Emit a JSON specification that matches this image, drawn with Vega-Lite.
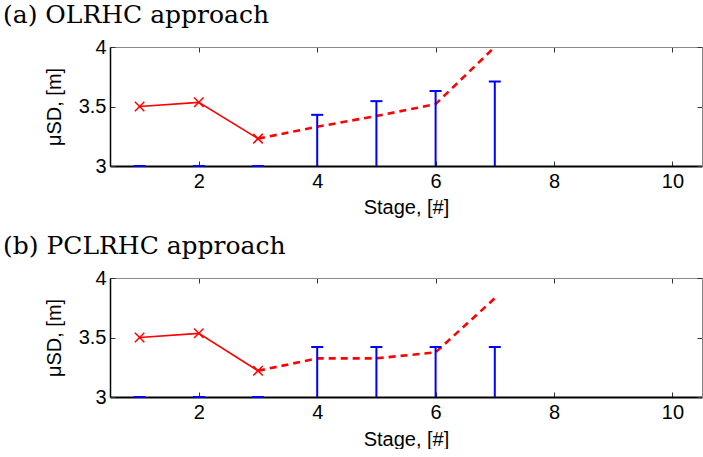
{
  "$schema": "https://vega.github.io/schema/vega-lite/v6.json",
  "background": "white",
  "padding": {"left": 3, "top": 3, "right": 0, "bottom": 0},
  "spacing": 17,
  "datasets": {
    "est": [
      {"panel": "a", "stage": 1, "mu": 3.50, "seg": "solid"},
      {"panel": "a", "stage": 2, "mu": 3.535, "seg": "solid"},
      {"panel": "a", "stage": 3, "mu": 3.23, "seg": "solid"},
      {"panel": "a", "stage": 3, "mu": 3.23, "seg": "dashed"},
      {"panel": "a", "stage": 4, "mu": 3.33, "seg": "dashed"},
      {"panel": "a", "stage": 5, "mu": 3.42, "seg": "dashed"},
      {"panel": "a", "stage": 6, "mu": 3.52, "seg": "dashed"},
      {"panel": "a", "stage": 7, "mu": 4.0, "seg": "dashed"},
      {"panel": "b", "stage": 1, "mu": 3.50, "seg": "solid"},
      {"panel": "b", "stage": 2, "mu": 3.535, "seg": "solid"},
      {"panel": "b", "stage": 3, "mu": 3.22, "seg": "solid"},
      {"panel": "b", "stage": 3, "mu": 3.22, "seg": "dashed"},
      {"panel": "b", "stage": 4, "mu": 3.325, "seg": "dashed"},
      {"panel": "b", "stage": 5, "mu": 3.325, "seg": "dashed"},
      {"panel": "b", "stage": 6, "mu": 3.375, "seg": "dashed"},
      {"panel": "b", "stage": 7, "mu": 3.83, "seg": "dashed"}
    ],
    "bars": [
      {"panel": "a", "stage": 1, "lo": 3, "hi": 3.0},
      {"panel": "a", "stage": 2, "lo": 3, "hi": 3.0},
      {"panel": "a", "stage": 3, "lo": 3, "hi": 3.0},
      {"panel": "a", "stage": 4, "lo": 3, "hi": 3.43},
      {"panel": "a", "stage": 5, "lo": 3, "hi": 3.545},
      {"panel": "a", "stage": 6, "lo": 3, "hi": 3.63},
      {"panel": "a", "stage": 7, "lo": 3, "hi": 3.71},
      {"panel": "b", "stage": 1, "lo": 3, "hi": 3.0},
      {"panel": "b", "stage": 2, "lo": 3, "hi": 3.0},
      {"panel": "b", "stage": 3, "lo": 3, "hi": 3.0},
      {"panel": "b", "stage": 4, "lo": 3, "hi": 3.42},
      {"panel": "b", "stage": 5, "lo": 3, "hi": 3.42},
      {"panel": "b", "stage": 6, "lo": 3, "hi": 3.42},
      {"panel": "b", "stage": 7, "lo": 3, "hi": 3.42}
    ]
  },
  "config": {
    "view": {"stroke": null},
    "axis": {
      "labelFont": "Liberation Sans", "titleFont": "Liberation Sans",
      "labelFontSize": 20, "titleFontSize": 20, "titleFontWeight": "normal",
      "labelColor": "black", "titleColor": "black", "grid": false,
      "tickColor": "#333", "tickSize": -5, "tickWidth": 1
    },
    "title": {"font": "DejaVu Serif", "fontSize": 25, "fontWeight": "normal", "anchor": "start", "frame": "bounds", "color": "black", "offset": 9}
  },
  "vconcat": [
    {
      "title": "(a) OLRHC approach",
      "width": 592, "height": 119,
      "resolve": {"axis": {"x": "independent", "y": "independent"}},
      "layer": [
        {
          "data": {"name": "est"},
          "transform": [{"filter": "datum.panel == 'a' && datum.seg == 'solid'"}],
          "mark": {"type": "line", "color": "red", "strokeWidth": 1.6},
          "encoding": {
            "x": {"field": "stage", "type": "quantitative", "scale": {"domain": [0.5, 10.5], "nice": false}, "axis": {"orient": "bottom", "title": "Stage, [#]", "values": [2, 4, 6, 8, 10], "domainColor": "black", "domainWidth": 2, "labelPadding": 10, "titlePadding": 6}},
            "y": {"field": "mu", "type": "quantitative", "scale": {"domain": [3, 4], "nice": false, "zero": false}, "axis": {"orient": "left", "title": "μSD, [m]", "values": [3, 3.5, 4], "format": "~g", "domainColor": "black", "domainWidth": 1.5, "labelPadding": 9, "titlePadding": 14}}
          }
        },
        {
          "data": {"name": "est"},
          "transform": [{"filter": "datum.panel == 'a' && datum.seg == 'dashed'"}],
          "mark": {"type": "line", "color": "red", "strokeWidth": 2.6, "strokeDash": [7, 5]},
          "encoding": {
            "x": {"field": "stage", "type": "quantitative", "axis": {"orient": "top", "title": null, "labels": false, "values": [2, 4, 6, 8, 10], "domainColor": "#888", "domainWidth": 1}},
            "y": {"field": "mu", "type": "quantitative", "axis": {"orient": "right", "title": null, "labels": false, "values": [3, 3.5, 4], "domainColor": "#888", "domainWidth": 1}}
          }
        },
        {
          "data": {"name": "est"},
          "transform": [{"filter": "datum.panel == 'a' && datum.seg == 'solid'"}],
          "mark": {"type": "point", "shape": "M-1,-1L1,1M-1,1L1,-1", "filled": false, "color": "red", "strokeWidth": 1.5, "size": 90, "opacity": 1},
          "encoding": {
            "x": {"field": "stage", "type": "quantitative", "axis": null},
            "y": {"field": "mu", "type": "quantitative", "axis": {"orient": "left", "title": "I", "titleOpacity": 0, "titlePadding": 87, "labels": false, "ticks": false, "domain": false}}
          }
        },
        {
          "data": {"name": "bars"},
          "transform": [{"filter": "datum.panel == 'a'"}],
          "mark": {"type": "rule", "color": "blue", "strokeWidth": 2},
          "encoding": {
            "x": {"field": "stage", "type": "quantitative", "axis": null},
            "y": {"field": "lo", "type": "quantitative", "axis": null},
            "y2": {"field": "hi"}
          }
        },
        {
          "data": {"name": "bars"},
          "transform": [{"filter": "datum.panel == 'a'"}],
          "mark": {"type": "tick", "orient": "horizontal", "color": "blue", "thickness": 2, "size": 12, "opacity": 1},
          "encoding": {
            "x": {"field": "stage", "type": "quantitative", "axis": null},
            "y": {"field": "hi", "type": "quantitative", "axis": null}
          }
        }
      ]
    },
    {
      "title": "(b) PCLRHC approach",
      "width": 592, "height": 119,
      "resolve": {"axis": {"x": "independent", "y": "independent"}},
      "layer": [
        {
          "data": {"name": "est"},
          "transform": [{"filter": "datum.panel == 'b' && datum.seg == 'solid'"}],
          "mark": {"type": "line", "color": "red", "strokeWidth": 1.6},
          "encoding": {
            "x": {"field": "stage", "type": "quantitative", "scale": {"domain": [0.5, 10.5], "nice": false}, "axis": {"orient": "bottom", "title": "Stage, [#]", "values": [2, 4, 6, 8, 10], "domainColor": "black", "domainWidth": 2, "labelPadding": 10, "titlePadding": 7}},
            "y": {"field": "mu", "type": "quantitative", "scale": {"domain": [3, 4], "nice": false, "zero": false}, "axis": {"orient": "left", "title": "μSD, [m]", "values": [3, 3.5, 4], "format": "~g", "domainColor": "black", "domainWidth": 1.5, "labelPadding": 9, "titlePadding": 14}}
          }
        },
        {
          "data": {"name": "est"},
          "transform": [{"filter": "datum.panel == 'b' && datum.seg == 'dashed'"}],
          "mark": {"type": "line", "color": "red", "strokeWidth": 2.6, "strokeDash": [7, 5]},
          "encoding": {
            "x": {"field": "stage", "type": "quantitative", "axis": {"orient": "top", "title": null, "labels": false, "values": [2, 4, 6, 8, 10], "domainColor": "#888", "domainWidth": 1}},
            "y": {"field": "mu", "type": "quantitative", "axis": {"orient": "right", "title": null, "labels": false, "values": [3, 3.5, 4], "domainColor": "#888", "domainWidth": 1}}
          }
        },
        {
          "data": {"name": "est"},
          "transform": [{"filter": "datum.panel == 'b' && datum.seg == 'solid'"}],
          "mark": {"type": "point", "shape": "M-1,-1L1,1M-1,1L1,-1", "filled": false, "color": "red", "strokeWidth": 1.5, "size": 90, "opacity": 1},
          "encoding": {
            "x": {"field": "stage", "type": "quantitative", "axis": null},
            "y": {"field": "mu", "type": "quantitative", "axis": {"orient": "left", "title": "I", "titleOpacity": 0, "titlePadding": 87, "labels": false, "ticks": false, "domain": false}}
          }
        },
        {
          "data": {"name": "bars"},
          "transform": [{"filter": "datum.panel == 'b'"}],
          "mark": {"type": "rule", "color": "blue", "strokeWidth": 2},
          "encoding": {
            "x": {"field": "stage", "type": "quantitative", "axis": null},
            "y": {"field": "lo", "type": "quantitative", "axis": null},
            "y2": {"field": "hi"}
          }
        },
        {
          "data": {"name": "bars"},
          "transform": [{"filter": "datum.panel == 'b'"}],
          "mark": {"type": "tick", "orient": "horizontal", "color": "blue", "thickness": 2, "size": 12, "opacity": 1},
          "encoding": {
            "x": {"field": "stage", "type": "quantitative", "axis": null},
            "y": {"field": "hi", "type": "quantitative", "axis": null}
          }
        }
      ]
    }
  ]
}
